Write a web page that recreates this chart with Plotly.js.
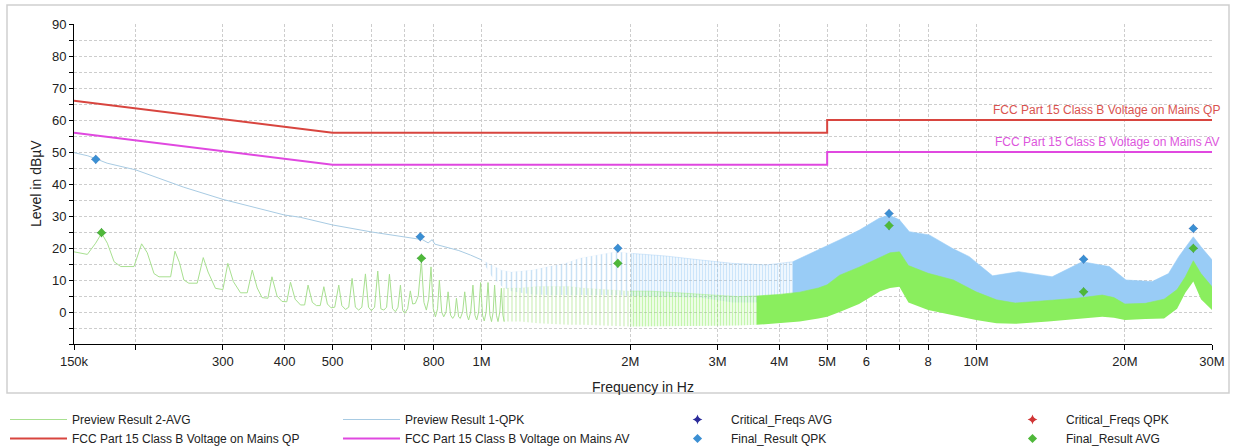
<!DOCTYPE html>
<html><head><meta charset="utf-8">
<script src="https://cdn.plot.ly/plotly-3.0.1.min.js"></script>
<style>html,body{margin:0;padding:0;background:#fff;} #chart{width:1235px;height:446px;}</style>
</head><body><div id="chart"></div>
<script>
// ---------- DATA ----------
// Preview Result 1-QPK (low-frequency smooth part), Hz / dBuV
const qpkF = [150e3,160e3,166e3,175e3,200e3,250e3,300e3,350e3,400e3,430e3,500e3,600e3,700e3,760e3,780e3,795e3,805e3,900e3,950e3,1.0e6];
const qpkL = [49.8,48.8,47.9,46.5,44.4,39.0,35.2,32.7,30.3,29.6,27.2,25.0,23.3,22.6,21.6,22.6,21.2,19.2,17.8,16.3];
// Preview Result 1-QPK dense part: envelope (upper / lower)
const qpkBandF  = [1.00e6,1.05e6,1.10e6,1.15e6,1.20e6,1.27e6,1.37e6,1.48e6,1.58e6,1.73e6,1.87e6,2.02e6,2.36e6,2.76e6,3.22e6,3.76e6,4.26e6,4.82e6,5.29e6,5.81e6,6.37e6,6.67e6,7.00e6,7.33e6,8.04e6,8.95e6,9.69e6,10.8e6,12.2e6,14.25e6,16.4e6,18.6e6,20.1e6,22.7e6,24.5e6,25.7e6,27.5e6,28.5e6,30.0e6];
const qpkBandHi = [16.3,14.5,13.0,12.5,12.8,13.1,14.2,15.2,16.8,17.8,18.8,18.3,17.5,16.3,15.2,14.7,15.7,19.5,22.5,25.6,29.3,30.3,28.8,25.1,24.1,19.9,17.3,11.3,12.6,11.0,15.7,14.2,10.0,9.5,12.0,17.3,23.5,20.4,16.3];
const qpkBandLo = [16.3,11.0,8.0,6.5,6.0,5.5,5.3,5.3,5.3,5.3,5.3,5.0,4.8,4.5,3.0,3.0,4.0,6.0,10.0,13.0,16.0,17.0,17.0,13.0,10.0,8.0,5.0,2.0,1.5,2.5,3.5,4.0,2.0,1.5,2.5,5.0,14.0,10.0,6.0];

// Preview Result 2-AVG (low-frequency resolved harmonics), Hz / dBuV
const avgF = [150e3,159.6e3,165.9e3,170.6e3,175.2e3,180.8e3,186.5e3,198.3e3,205.5e3,211e3,217.7e3,222.8e3,235.2e3,240e3,245e3,250.2e3,256e3,266.2e3,273.8e3,280e3,289.8e3,300e3,307e3,315e3,325.7e3,336e3,344e3,352e3,360e3,370e3,377e3,386e3,395e3,404e3,411e3,420e3,430.6e3,439e3,446e3,455e3,463.8e3,472e3,480e3,488e3,496.5e3,505e3,514.6e3,522e3,531e3,539e3,547.5e3,556e3,564.7e3,573e3,582.6e3,591e3,599e3,608e3,617e3,626e3,634.5e3,643e3,651.5e3,661e3,670e3,678e3,685.7e3,693e3,699.6e3,709e3,718e3,726e3,735e3,745e3,756e3,765e3,773.7e3,782e3,790.6e3,799e3,807e3,815e3,822e3,831e3,838.8e3,848e3,856e3,866e3,874.6e3,883e3,890e3,899e3,906e3,916e3,925e3,935e3,942e3,951e3,961e3,970e3,978e3,987e3,996e3,1005e3,1013e3,1022e3,1031e3,1040e3,1048e3,1056e3,1063e3,1072e3,1080e3,1089e3,1097e3,1105e3,1112e3];
const avgL = [18.8,18.0,21.5,24.6,21.5,15.7,14.2,14.2,21.3,18.5,12.0,11.0,11.0,19.0,15.5,10.0,9.0,9.0,17.0,12.5,7.4,7.0,15.2,9.5,6.0,6.0,13.1,7.5,4.5,4.3,11.0,5.0,3.3,3.2,9.3,4.0,2.2,2.2,8.4,3.0,2.0,2.0,7.9,2.5,1.3,1.5,8.4,2.0,0.8,1.5,10.5,1.5,0.6,1.5,11.9,1.5,0.4,1.5,12.8,1.0,0.6,1.5,11.8,1.0,0.1,1.5,8.4,0.5,-0.4,1.0,6.6,2.5,2.7,5.0,16.0,3.0,0.6,4.0,14.1,1.0,-1.5,1.0,10.0,0.0,-1.5,0.0,6.3,-1.0,-2.0,-1.0,4.3,-1.5,-2.0,0.0,6.3,-1.0,-2.5,0.0,8.4,-1.0,-2.5,0.0,9.2,-1.0,-2.8,0.0,9.2,-1.0,-3.0,0.0,8.4,-1.0,-3.0,0.0,7.4,-1.0,-3.0];
// Preview Result 2-AVG dense part: envelope (upper / lower)
const avgBandF  = [1.10e6,1.20e6,1.30e6,1.40e6,1.50e6,1.60e6,1.80e6,2.00e6,2.20e6,2.50e6,2.80e6,3.00e6,3.30e6,3.60e6,4.00e6,4.40e6,4.80e6,5.00e6,5.30e6,5.80e6,6.40e6,6.70e6,7.00e6,7.30e6,8.00e6,9.00e6,10.0e6,11.0e6,12.0e6,14.0e6,16.0e6,18.0e6,19.0e6,20.0e6,22.0e6,24.0e6,25.5e6,26.5e6,27.5e6,28.5e6,30.0e6];
const avgBandHi = [7.5,7.5,8.0,8.0,8.0,7.5,7.0,6.5,6.5,6.0,5.5,5.0,4.8,5.0,5.5,6.2,7.5,8.5,11.5,14.0,17.0,18.5,18.8,14.5,12.1,10.0,6.3,3.8,2.8,3.5,4.3,5.3,4.5,2.5,2.7,4.0,7.0,11.0,16.0,12.0,7.9];
const avgBandLo = [-3.0,-3.0,-3.5,-3.8,-4.0,-4.0,-4.3,-4.5,-4.5,-4.5,-4.5,-4.3,-4.2,-4.0,-3.5,-3.0,-2.0,-1.5,0.0,2.5,6.5,7.5,7.9,3.0,0.6,-1.0,-2.5,-3.5,-3.7,-3.0,-2.2,-1.5,-1.8,-2.5,-2.2,-2.0,1.0,6.0,9.5,4.0,0.6];

// FCC Part 15 Class B limits
const limF  = [150e3,500e3,5e6,5e6,30e6];
const qpLim = [66,56,56,60,60];
const avLim = [56,46,46,50,50];

// Final results
const finQpkF = [166e3,752e3,1.887e6,6.67e6,16.5e6,27.5e6];
const finQpkL = [47.7,23.5,19.9,30.8,16.5,26.1];
const finAvgF = [170.5e3,756e3,1.887e6,6.67e6,16.5e6,27.5e6];
const finAvgL = [24.8,16.8,15.2,27.0,6.3,19.9];

// Critical frequencies: same points as the final results (hidden under the final markers)
const critAvgF = finAvgF, critAvgL = finAvgL;
const critQpkF = finQpkF, critQpkL = finQpkL;

// Axis ticks
const xTickVals = [150e3,200e3,300e3,400e3,500e3,600e3,700e3,800e3,1e6,2e6,3e6,4e6,5e6,6e6,7e6,8e6,10e6,20e6,30e6];
const xTickText = ['150k','','300','400','500','','','800','1M','2M','3M','4M','5M','6','','8','10M','20M','30M'];
const yTickVals = [0,10,20,30,40,50,60,70,80,90];

// ---------- STYLE ----------
const FONT = 'Liberation Sans, Arial, sans-serif';
const GRID = '#cdcdcd';
const DASH = '3px,2px';

function band(f, lo, hi, i0, i1, color, pattern) {
  const fx = f.slice(i0, i1 + 1);
  const upper = {type:'scatter', mode:'lines', x:fx, y:hi.slice(i0, i1 + 1), fill:'tonexty', fillcolor:color,
                 line:{width:0.6, color:color}, showlegend:false, hoverinfo:'skip'};
  if (pattern) upper.fillpattern = pattern;
  return [
    {type:'scatter', mode:'lines', x:fx, y:lo.slice(i0, i1 + 1), line:{width:0, color:color}, showlegend:false, hoverinfo:'skip'},
    upper
  ];
}

const BLUE = 'rgb(153,204,246)', GREEN = 'rgb(138,238,94)';
const traces = [];
traces.push({type:'scatter', mode:'lines', name:'Preview Result 1-QPK', x:qpkF, y:qpkL, line:{color:'#a8cbe3', width:1}, legend:'legend2'});
traces.push(...band(qpkBandF, qpkBandLo, qpkBandHi, 0, 11, 'rgba(150,200,242,0.12)',
  {shape:'|', fgcolor:'rgb(150,198,236)', bgcolor:'rgba(255,255,255,0)', size:5, solidity:0.3, fillmode:'overlay'}));
traces.push(...band(qpkBandF, qpkBandLo, qpkBandHi, 11, 16, 'rgba(150,200,242,0.6)',
  {shape:'|', fgcolor:BLUE, bgcolor:'rgba(255,255,255,0)', size:3, solidity:0.55, fillmode:'overlay'}));
traces.push(...band(qpkBandF, qpkBandLo, qpkBandHi, 16, qpkBandF.length - 1, BLUE));

traces.push({type:'scatter', mode:'lines', name:'Preview Result 2-AVG', x:avgF, y:avgL, line:{color:'#a8e090', width:1}, legend:'legend'});
traces.push(...band(avgBandF, avgBandLo, avgBandHi, 0, 7, 'rgba(170,230,140,0.12)',
  {shape:'|', fgcolor:'rgb(170,228,140)', bgcolor:'rgba(255,255,255,0)', size:4, solidity:0.35, fillmode:'overlay'}));
traces.push(...band(avgBandF, avgBandLo, avgBandHi, 7, 13, 'rgba(140,232,100,0.6)',
  {shape:'|', fgcolor:GREEN, bgcolor:'rgba(255,255,255,0)', size:3, solidity:0.55, fillmode:'overlay'}));
traces.push(...band(avgBandF, avgBandLo, avgBandHi, 13, avgBandF.length - 1, GREEN));

traces.push({type:'scatter', mode:'lines', name:'FCC Part 15 Class B Voltage on Mains QP', x:limF, y:qpLim, line:{color:'#d8453f', width:2}, legend:'legend'});
traces.push({type:'scatter', mode:'lines', name:'FCC Part 15 Class B Voltage on Mains AV', x:limF, y:avLim, line:{color:'#e048e0', width:2}, legend:'legend2'});

traces.push({type:'scatter', mode:'markers', name:'Critical_Freqs AVG', x:critAvgF, y:critAvgL, marker:{symbol:'star-diamond', size:7, color:'#2b2b9a'}, legend:'legend3'});
traces.push({type:'scatter', mode:'markers', name:'Critical_Freqs QPK', x:critQpkF, y:critQpkL, marker:{symbol:'star-diamond', size:7, color:'#d03535'}, legend:'legend4'});
traces.push({type:'scatter', mode:'markers', name:'Final_Result QPK', x:finQpkF, y:finQpkL, marker:{symbol:'diamond', size:7, color:'#3b8fd3'}, legend:'legend3'});
traces.push({type:'scatter', mode:'markers', name:'Final_Result AVG', x:finAvgF, y:finAvgL, marker:{symbol:'diamond', size:7, color:'#4fb83a'}, legend:'legend4'});

const legFont = {family:FONT, size:12, color:'#222'};
function leg(px) {
  return {x:px / 1235, y:1 - 405 / 446, xref:'container', yref:'container', xanchor:'left', yanchor:'top',
          bgcolor:'rgba(0,0,0,0)', borderwidth:0, font:legFont, itemwidth:57, tracegroupgap:0,
          orientation:'v', traceorder:'normal'};
}

const L = 74, R = 1212, T = 24, B = 344;
const pw = R - L, ph = B - T;

const layout = {
  width:1235, height:446,
  margin:{l:L, r:1235 - R, t:T, b:446 - B, autoexpand:false},
  paper_bgcolor:'#ffffff', plot_bgcolor:'#ffffff',
  font:{family:FONT, size:13, color:'#222'},
  showlegend:true,
  legend:leg(5), legend2:leg(338), legend3:leg(664), legend4:leg(999),
  xaxis:{
    type:'log', range:[Math.log10(150e3), Math.log10(30e6)],
    tickmode:'array', tickvals:xTickVals, ticktext:xTickText,
    showgrid:true, gridcolor:GRID, griddash:DASH, gridwidth:1,
    showline:true, linecolor:'#000', linewidth:1,
    ticks:'outside', ticklen:5, tickcolor:'#000', tickangle:0,
    tickfont:{family:FONT, size:13, color:'#222'},
    zeroline:false, automargin:false,
    title:{text:'Frequency in Hz', font:{family:FONT, size:14, color:'#222'}, standoff:14}
  },
  yaxis:{
    range:[-10, 90], tickmode:'array', tickvals:yTickVals,
    showgrid:true, gridcolor:GRID, griddash:DASH, gridwidth:1,
    showline:true, linecolor:'#000', linewidth:1,
    ticks:'outside', ticklen:4, tickcolor:'#000',
    tickfont:{family:FONT, size:13, color:'#222'},
    zeroline:false, automargin:false,
    minor:{dtick:5, tick0:-10, ticks:'outside', ticklen:4, tickcolor:'#000', showgrid:true, gridcolor:GRID, griddash:DASH}
  },
  shapes:[{
    type:'rect', xref:'paper', yref:'paper',
    x0:(7 - L) / pw, x1:(1229 - L) / pw, y0:(B - 393) / ph, y1:(B - 5) / ph,
    line:{color:'#cfcfcf', width:1.5}, fillcolor:'rgba(0,0,0,0)', layer:'below'
  }],
  annotations:[
    {xref:'paper', yref:'paper', x:(36 - L) / pw, y:0.5, text:'Level in dBµV', textangle:-90, showarrow:false,
     xanchor:'center', yanchor:'middle', font:{family:FONT, size:14, color:'#222'}},
    {xref:'x', yref:'y', x:Math.log10(limF[limF.length - 1]), y:qpLim[qpLim.length - 1], text:'FCC Part 15 Class B Voltage on Mains QP',
     showarrow:false, xanchor:'right', yanchor:'bottom', xshift:10, yshift:1, font:{family:FONT, size:12, color:'#d9534f'}},
    {xref:'x', yref:'y', x:Math.log10(limF[limF.length - 1]), y:avLim[avLim.length - 1], text:'FCC Part 15 Class B Voltage on Mains AV',
     showarrow:false, xanchor:'right', yanchor:'bottom', xshift:10, yshift:1, font:{family:FONT, size:12, color:'#dd55dd'}}
  ]
};

Plotly.newPlot('chart', traces, layout, {staticPlot:true, displayModeBar:false});
</script>
</body></html>
